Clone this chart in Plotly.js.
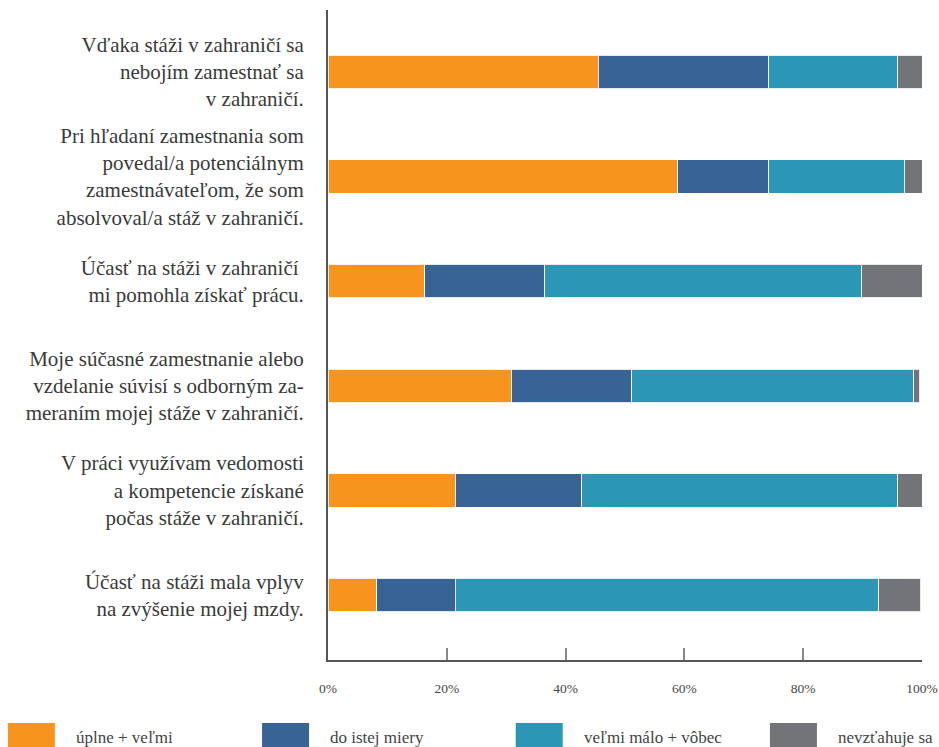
<!DOCTYPE html>
<html>
<head>
<meta charset="utf-8">
<script src="https://cdn.plot.ly/plotly-3.0.1.min.js"></script>
<style>html,body{margin:0;padding:0;background:#fff;}#chart{width:939px;height:747px;}</style>
</head>
<body>
<div id="chart"></div>
<script>
const categories = [
  "Vďaka stáži v zahraničí sa<br>nebojím zamestnať sa<br>v zahraničí.",
  "Pri hľadaní zamestnania som<br>povedal/a potenciálnym<br>zamestnávateľom, že som<br>absolvoval/a stáž v zahraničí.",
  "Účasť na stáži v zahraničí <br>mi pomohla získať prácu.",
  "Moje súčasné zamestnanie alebo<br>vzdelanie súvisí s odborným za-<br>meraním mojej stáže v zahraničí.",
  "V práci využívam vedomosti<br>a kompetencie získané<br>počas stáže v zahraničí.",
  "Účasť na stáži mala vplyv<br>na zvýšenie mojej mzdy."
];
const seriesNames = ["úplne + veľmi", "do istej miery", "veľmi málo + vôbec", "nevzťahuje sa"];
const seriesColors = ["#F7941E", "#376395", "#2C96B6", "#737478"];
const uplneVelmi   = [45.5, 58.9, 16.3, 30.9, 21.4, 8.2];
const doIstejMiery = [28.7, 15.3, 20.2, 20.2, 21.3, 13.2];
const velmiMalo    = [21.6, 22.8, 53.3, 47.5, 53.2, 71.3];
const nevztahuje   = [4.2, 3.0, 10.2, 1.0, 4.1, 7.1];
const tickVals = [0, 20, 40, 60, 80, 100];
const tickText = ["0%", "20%", "40%", "60%", "80%", "100%"];

const seriesValues = [uplneVelmi, doIstejMiery, velmiMalo, nevztahuje];
const FONT = "Liberation Serif";

const traces = seriesValues.map((vals, i) => ({
  type: "bar",
  orientation: "h",
  name: seriesNames[i],
  y: categories,
  x: vals,
  marker: { color: seriesColors[i], line: { color: "rgba(255,255,255,0.85)", width: 1 } },
  showlegend: false,
  hoverinfo: "x+name"
}));

// legend drawn as boxes + text
const shapes = [];
const annotations = [];
const legendX = [-0.539, -0.111, 0.316, 0.744];
seriesNames.forEach((n, i) => {
  shapes.push({
    type: "rect", xref: "paper", yref: "paper",
    x0: legendX[i], x1: legendX[i] + 47 / 594,
    y0: -87 / 650, y1: -63 / 650,
    fillcolor: seriesColors[i], line: { width: 0 }
  });
  annotations.push({
    xref: "paper", yref: "paper",
    x: legendX[i] + 66 / 594, y: -77 / 650,
    xanchor: "left", yanchor: "middle",
    text: n, showarrow: false,
    font: { family: FONT, size: 17, color: "#444" }
  });
});

const layout = {
  width: 939, height: 747,
  margin: { l: 328, r: 17, t: 10, b: 87 },
  paper_bgcolor: "#fff", plot_bgcolor: "#fff",
  font: { family: FONT },
  barmode: "stack",
  bargap: 0.68,
  showlegend: false,
  xaxis: {
    range: [0, 100], tickvals: tickVals, ticktext: tickText,
    showgrid: false, zeroline: false,
    showline: true, linecolor: "#555", linewidth: 1.5,
    ticks: "inside", ticklen: 12, tickcolor: "#888", tickwidth: 1.5,
    ticklabelstandoff: 15,
    tickfont: { family: FONT, size: 13.5, color: "#444" },
    fixedrange: true
  },
  yaxis: {
    type: "category",
    range: [5.62, -0.59],
    showgrid: false, zeroline: false,
    showline: true, linecolor: "#555", linewidth: 2,
    ticks: "", ticklabelstandoff: 18,
    tickfont: { family: FONT, size: 21, color: "#3a3a3a" },
    fixedrange: true
  },
  shapes: shapes,
  annotations: annotations
};

Plotly.newPlot("chart", traces, layout, { displayModeBar: false });
</script>
</body>
</html>
